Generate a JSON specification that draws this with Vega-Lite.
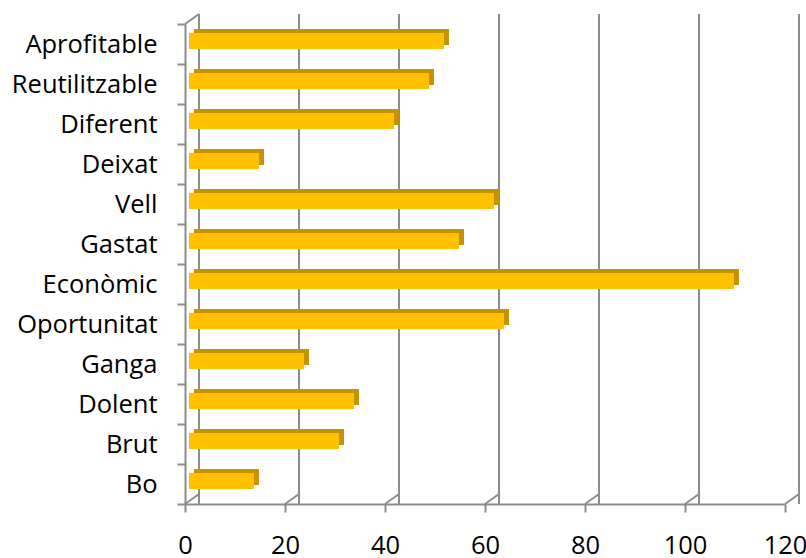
{
  "$schema": "https://vega.github.io/schema/vega-lite/v6.json",
  "width": 600,
  "height": 480,
  "autosize": {"type": "none"},
  "padding": {"left": 185, "top": 24, "right": 21, "bottom": 54},
  "background": "white",
  "config": {
    "view": {"stroke": null},
    "font": "Open Sans",
    "axis": {
      "domainColor": "#8c8c8c",
      "domainWidth": 2,
      "tickColor": "#8c8c8c",
      "tickWidth": 2,
      "tickSize": 8,
      "labelColor": "#000000",
      "labelFontSize": 25.5,
      "labelFont": "Open Sans",
      "labelFlush": false,
      "labelOverlap": false,
      "grid": false
    }
  },
  "datasets": {
    "words": [
      {"word": "Aprofitable", "n": 51},
      {"word": "Reutilitzable", "n": 48},
      {"word": "Diferent", "n": 41},
      {"word": "Deixat\u00a0", "n": 14},
      {"word": "Vell", "n": 61},
      {"word": "Gastat", "n": 54},
      {"word": "Econòmic", "n": 109},
      {"word": "Oportunitat", "n": 63},
      {"word": "Ganga", "n": 23},
      {"word": "Dolent", "n": 33},
      {"word": "Brut", "n": 30},
      {"word": "Bo", "n": 13}
    ],
    "grid": [{"v": 0}, {"v": 20}, {"v": 40}, {"v": 60}, {"v": 80}, {"v": 100}, {"v": 120}]
  },
  "resolve": {"scale": {"y": "independent"}, "axis": {"y": "independent"}},
  "layer": [
    {
      "description": "back wall gridlines",
      "data": {"name": "grid"},
      "mark": {"type": "rule", "color": "#8c8c8c", "strokeWidth": 2, "xOffset": 14, "yOffset": -10, "y2Offset": -10},
      "encoding": {
        "x": {"field": "v", "type": "quantitative", "scale": {"domain": [0, 120], "nice": false},
              "axis": {"title": null, "values": [0, 20, 40, 60, 80, 100, 120], "labelPadding": 21}}
      }
    },
    {
      "description": "floor edges joining the front axis to the back wall",
      "data": {"name": "grid"},
      "mark": {"type": "rule", "color": "#8c8c8c", "strokeWidth": 2, "x2Offset": 14, "y2Offset": -10},
      "encoding": {
        "x": {"field": "v", "type": "quantitative", "axis": {"title": null, "values": [0, 20, 40, 60, 80, 100, 120], "labelPadding": 21}},
        "x2": {"field": "v"},
        "y": {"datum": 0, "type": "quantitative", "scale": {"domain": [0, 1]}, "axis": null},
        "y2": {"datum": 0}
      }
    },
    {
      "description": "top-left wall edge",
      "data": {"values": [{"v": 0}]},
      "mark": {"type": "rule", "color": "#8c8c8c", "strokeWidth": 2, "x2Offset": 14, "y2Offset": -10},
      "encoding": {
        "x": {"field": "v", "type": "quantitative", "axis": {"title": null, "values": [0, 20, 40, 60, 80, 100, 120], "labelPadding": 21}},
        "x2": {"field": "v"},
        "y": {"datum": 1, "type": "quantitative", "scale": {"domain": [0, 1]}, "axis": null},
        "y2": {"datum": 1}
      }
    },
    {
      "description": "bar depth (top and side faces)",
      "data": {"name": "words"},
      "mark": {"type": "bar", "color": "#C49300", "size": 16, "xOffset": 9, "yOffset": -7},
      "encoding": {
        "x": {"field": "n", "type": "quantitative", "axis": {"title": null, "values": [0, 20, 40, 60, 80, 100, 120], "labelPadding": 21}},
        "y": {"field": "word", "type": "nominal", "sort": null,
              "scale": {"paddingInner": 0, "paddingOuter": 0}, "axis": null}
      }
    },
    {
      "description": "bar front faces",
      "data": {"name": "words"},
      "mark": {"type": "bar", "color": "#FFC000", "size": 16, "xOffset": 4, "yOffset": -3},
      "encoding": {
        "x": {"field": "n", "type": "quantitative", "axis": {"title": null, "values": [0, 20, 40, 60, 80, 100, 120], "labelPadding": 21}},
        "y": {"field": "word", "type": "nominal", "sort": null,
              "scale": {"paddingInner": 0, "paddingOuter": 0},
              "axis": {"title": null, "tickBand": "extent", "labelPadding": 20}}
      }
    }
  ]
}
